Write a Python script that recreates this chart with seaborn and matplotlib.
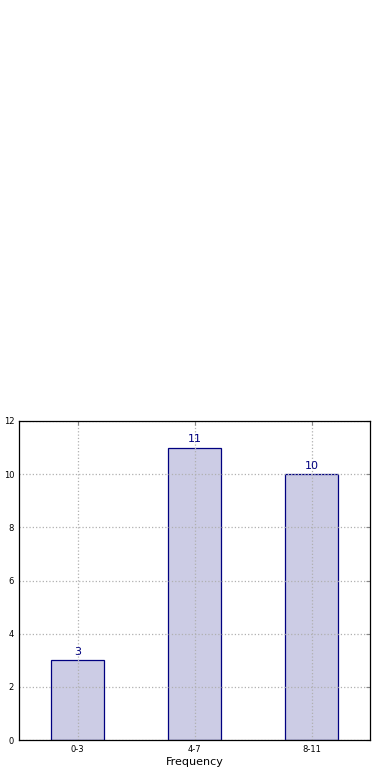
import numpy as np
import pandas as pd
import seaborn as sns
import matplotlib
matplotlib.use('Agg')
import matplotlib.pyplot as plt

bins = ['0-3', '4-7', '8-11']
counts = [3, 11, 10]

df = pd.DataFrame({'Frequency': bins, 'count': counts})

sns.set_style('white')
plt.rcParams['font.family'] = ['DejaVu Sans']
plt.rcParams['xtick.direction'] = 'in'
plt.rcParams['ytick.direction'] = 'in'

fig = plt.figure(figsize=(3.9, 7.8), dpi=100)
ax = fig.add_axes([19 / 390, 40 / 780, 351 / 390, 319 / 780])

sns.barplot(x='Frequency', y='count', data=df, width=0.45,
            color='#ccccE5', edgecolor='navy', linewidth=0.9,
            saturation=1, ax=ax)
for p in ax.patches:
    p.set_facecolor('#ccccE5')
    p.set_edgecolor('navy')
    p.set_zorder(1)

for i, c in enumerate(counts):
    ax.text(i, c + 0.12, str(c), ha='center', va='bottom',
            color='navy', fontsize=8)

ax.set_xlim(-0.5, 2.5)
ax.set_ylim(0, 12)
ax.set_yticks(np.arange(0, 13, 2))
ax.grid(True, linestyle=':', color='#b0b0b0', linewidth=0.9)
ax.set_axisbelow(False)
ax.tick_params(axis='both', labelsize=6, length=3, top=True, right=True,
               colors='#888888', labelcolor='black')
ax.set_xlabel('Frequency', fontsize=8, labelpad=2, color='black')
ax.set_ylabel('Student Count', fontsize=8, color='black')
for s in ax.spines.values():
    s.set_visible(True)
    s.set_color('black')
    s.set_linewidth(0.9)
    s.set_zorder(5)

fig.savefig('out.png', dpi=100)
